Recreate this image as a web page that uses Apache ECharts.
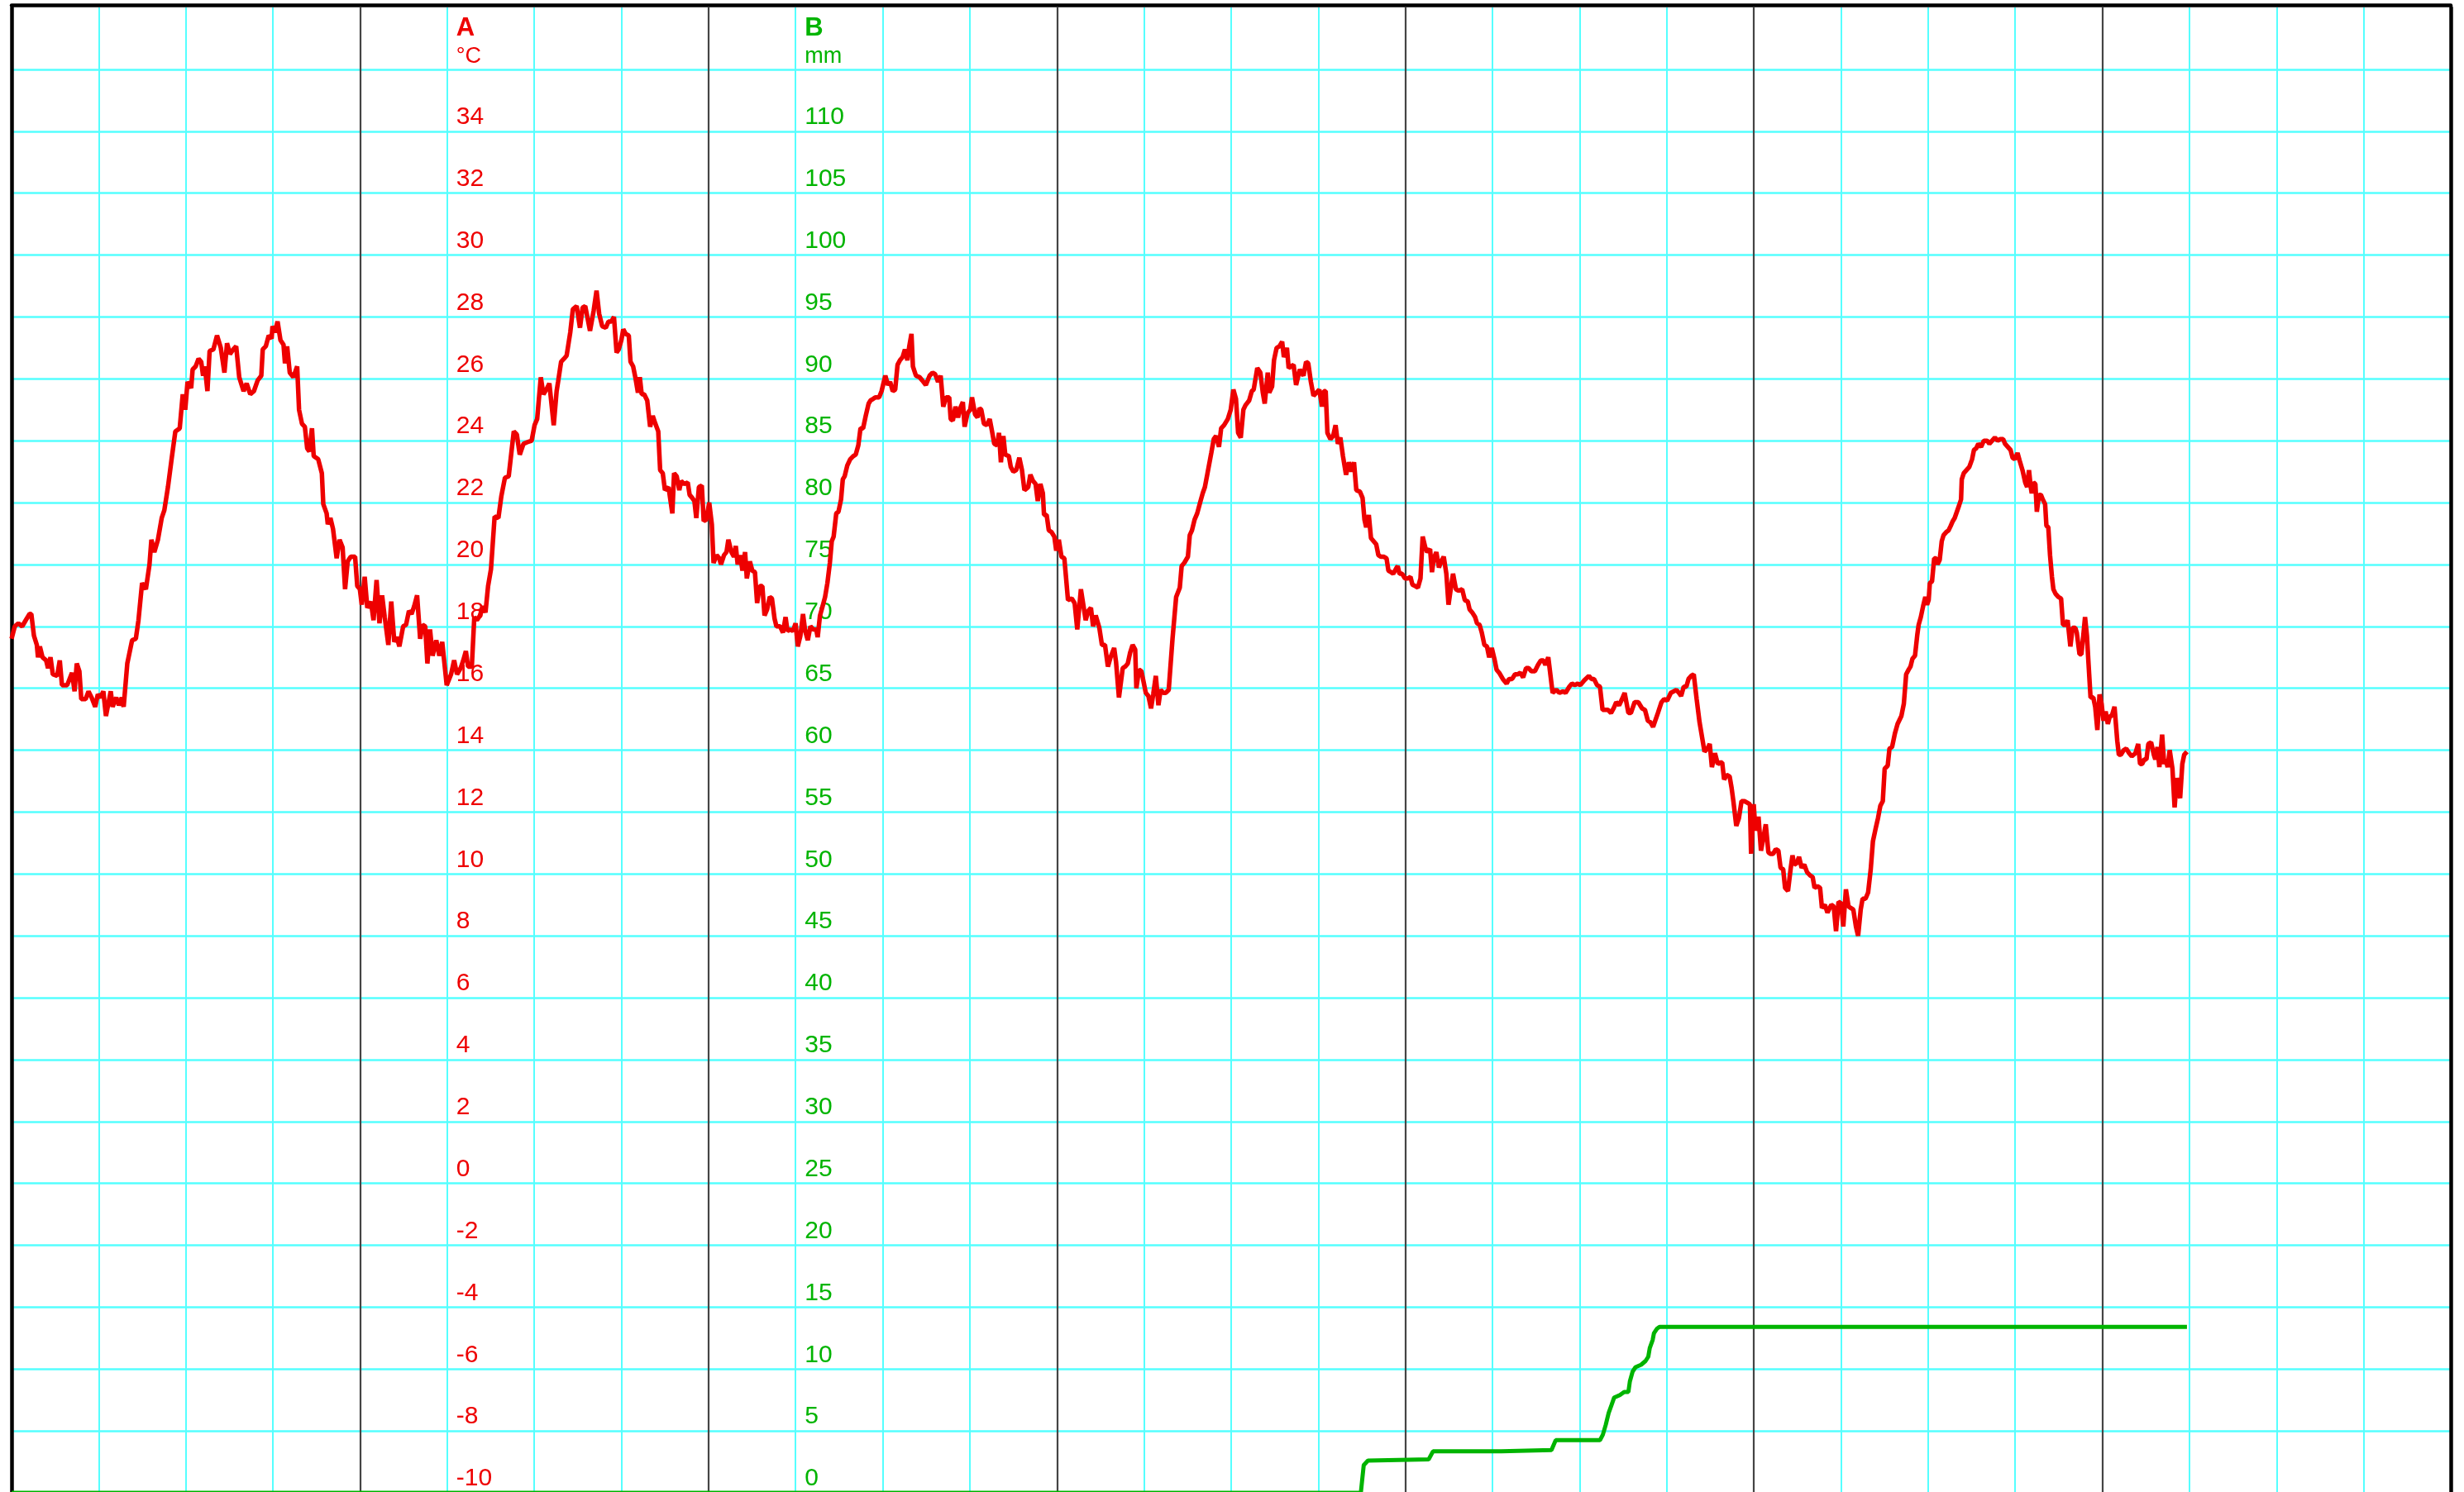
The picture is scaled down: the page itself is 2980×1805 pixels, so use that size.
<!DOCTYPE html>
<html>
<head>
<meta charset="utf-8">
<script src="https://cdn.jsdelivr.net/npm/echarts@6/dist/echarts.min.js"></script>
<style>
html,body{margin:0;padding:0;background:#fff;}
#chart{width:2980px;height:1805px;}
</style>
</head>
<body>
<div id="chart"></div>
<script>
// ---- data (hours since start, value) ----
const tempName = 'A';
const tempUnit = '°C';
const rainName = 'B';
const rainUnit = 'mm';
const hoursRange = [0, 168];          // 7 days
const tempRange = [-10, 38];          // axis A
const tempLastLabel = 34;
const rainRange = [0, 120];           // axis B
const rainLastLabel = 110;

const temperature = [
[0,17.6],[0.22,18.0],[0.47,18.1],[0.73,18.0],[0.98,18.2],[1.24,18.4],[1.36,18.4],[1.54,17.7],[1.74,17.4],[1.82,17.0],[1.95,17.35],[2.13,17.0],[2.38,16.9],[2.51,16.65],[2.68,17.0],[2.84,16.45],[3.14,16.4],[3.32,16.9],[3.47,16.1],[3.83,16.1],[4.16,16.5],[4.34,15.9],[4.49,16.8],[4.67,16.55],[4.80,15.65],[5.10,15.65],[5.30,15.9],[5.51,15.7],[5.76,15.4],[5.94,15.8],[6.12,15.7],[6.32,15.9],[6.50,15.1],[6.83,15.9],[6.96,15.4],[7.21,15.7],[7.39,15.45],[7.59,15.7],[7.72,15.4],[7.97,16.8],[8.30,17.55],[8.56,17.6],[8.74,18.2],[8.99,19.4],[9.25,19.2],[9.50,20.0],[9.63,20.8],[9.83,20.4],[10.08,20.8],[10.34,21.5],[10.52,21.75],[10.77,22.5],[11.02,23.4],[11.28,24.3],[11.58,24.4],[11.79,25.5],[11.96,25.0],[12.12,25.9],[12.37,25.7],[12.47,26.3],[12.68,26.4],[12.88,26.65],[13.06,26.55],[13.19,26.1],[13.31,26.4],[13.49,25.6],[13.64,26.9],[13.90,26.95],[14.15,27.4],[14.41,27.0],[14.66,26.2],[14.84,27.15],[15.04,26.8],[15.27,26.95],[15.47,27.05],[15.68,26.05],[15.98,25.6],[16.19,25.85],[16.44,25.5],[16.69,25.6],[16.95,25.95],[17.20,26.1],[17.30,26.95],[17.51,27.05],[17.71,27.4],[17.91,27.3],[17.97,27.7],[18.14,27.5],[18.32,27.85],[18.52,27.25],[18.73,27.1],[18.83,26.5],[18.98,27.05],[19.16,26.2],[19.41,26.05],[19.67,26.4],[19.80,25.0],[20.00,24.55],[20.20,24.45],[20.36,23.75],[20.51,23.65],[20.69,24.4],[20.81,23.5],[21.12,23.4],[21.37,22.95],[21.47,21.95],[21.70,21.65],[21.78,21.3],[21.96,21.5],[22.14,21.15],[22.39,20.2],[22.59,20.8],[22.80,20.55],[22.97,19.2],[23.15,20.1],[23.36,20.25],[23.66,20.25],[23.81,19.3],[23.99,19.2],[24.12,18.7],[24.32,19.6],[24.50,18.6],[24.75,18.8],[24.93,18.2],[25.14,19.5],[25.34,18.1],[25.52,19.0],[25.70,18.3],[25.95,17.4],[26.15,18.8],[26.36,17.5],[26.53,17.65],[26.71,17.35],[26.97,18.0],[27.17,18.05],[27.37,18.5],[27.55,18.4],[27.73,18.65],[27.93,19.0],[28.14,17.6],[28.31,18.05],[28.49,18.0],[28.64,16.8],[28.82,17.9],[29.00,17.05],[29.25,17.55],[29.46,17.05],[29.66,17.5],[29.97,16.1],[30.27,16.45],[30.48,16.9],[30.68,16.45],[30.93,16.65],[31.11,16.9],[31.29,17.2],[31.44,16.7],[31.70,16.7],[31.87,18.3],[32.05,18.2],[32.26,18.35],[32.46,18.65],[32.64,18.45],[32.82,19.3],[33.02,19.85],[33.27,21.55],[33.53,21.5],[33.73,22.2],[33.98,22.8],[34.24,22.85],[34.42,23.6],[34.59,24.3],[34.80,24.2],[35.00,23.55],[35.26,23.9],[35.51,23.95],[35.82,24.0],[36.02,24.5],[36.20,24.7],[36.45,26.05],[36.63,25.5],[36.83,25.65],[37.04,25.85],[37.34,24.5],[37.54,25.6],[37.64,25.9],[37.85,26.55],[38.05,26.65],[38.23,26.75],[38.48,27.5],[38.66,28.25],[38.92,28.35],
[39.15,27.65],[39.33,28.3],[39.51,28.35],[39.84,27.55],[40.09,28.2],[40.29,28.85],[40.47,28.1],[40.68,27.7],[40.93,27.65],[41.11,27.85],[41.31,27.85],[41.49,28.0],[41.67,26.85],[41.82,26.95],[42.00,27.25],[42.13,27.6],[42.30,27.45],[42.51,27.4],[42.63,26.55],[42.81,26.4],[42.96,26.05],[43.14,25.55],[43.27,26.05],[43.40,25.5],[43.57,25.5],[43.78,25.3],[43.98,24.45],[44.16,24.8],[44.34,24.55],[44.54,24.3],[44.67,23.05],[44.85,22.95],[45.00,22.4],[45.25,22.5],[45.51,21.65],[45.63,22.95],[45.81,22.85],[45.99,22.4],[46.12,22.7],[46.32,22.6],[46.57,22.65],[46.70,22.25],[46.88,22.15],[47.03,22.05],[47.16,21.5],[47.34,22.5],[47.54,22.55],[47.67,21.4],[47.85,21.45],[48.05,22.0],[48.23,21.3],[48.35,20.05],[48.56,20.3],[48.74,20.2],[48.86,20.0],[49.07,20.3],[49.24,20.4],[49.37,20.8],[49.58,20.4],[49.75,20.25],[49.88,20.6],[50.01,20.0],[50.18,20.3],[50.34,19.8],[50.52,20.4],[50.64,19.55],[50.85,20.1],[51.02,19.8],[51.20,19.75],[51.35,18.75],[51.53,19.3],[51.71,19.3],[51.86,18.35],[52.04,18.55],[52.22,18.95],[52.37,18.9],[52.55,18.25],[52.68,18.0],[52.93,18.0],[53.13,17.8],[53.31,18.3],[53.44,17.85],[53.64,17.9],[53.82,17.85],[54.00,18.1],[54.15,17.35],[54.33,17.7],[54.51,18.4],[54.66,17.85],[54.84,17.55],[55.02,18.0],[55.22,17.9],[55.42,17.9],[55.52,17.65],[55.68,18.35],[55.86,18.65],[56.03,18.95],[56.19,19.4],[56.36,20.05],[56.49,20.75],[56.62,20.9],[56.80,21.65],[56.95,21.7],[57.13,22.1],[57.25,22.75],[57.38,22.85],[57.56,23.2],[57.76,23.4],[57.97,23.5],[58.14,23.55],[58.32,23.85],[58.47,24.4],[58.65,24.4],[58.83,24.8],[59.03,25.2],[59.16,25.3],[59.34,25.35],[59.49,25.4],[59.75,25.4],[59.92,25.6],[60.18,26.1],[60.36,25.8],[60.51,25.9],[60.69,25.6],[60.86,25.65],[61.02,26.45],[61.19,26.6],[61.37,26.7],[61.53,26.95],[61.70,26.6],[61.83,27.05],[61.98,27.45],[62.08,26.4],[62.29,26.1],[62.54,26.05],[62.72,25.95],[62.97,25.8],[63.23,26.1],[63.43,26.2],[63.61,26.15],[63.81,25.9],[63.99,26.1],[64.17,25.1],[64.37,25.4],[64.58,25.4],[64.68,24.7],[64.83,24.65],[65.01,25.1],[65.19,24.75],[65.34,25.05],[65.52,25.25],[65.64,24.45],[65.85,24.9],[66.03,25.0],[66.15,25.4],[66.36,24.85],[66.53,24.75],[66.66,25.05],[66.79,25.0],[66.97,24.55],[67.17,24.5],[67.37,24.7],[67.55,24.25],[67.68,23.9],[67.88,23.85],[68.01,24.25],[68.14,23.3],[68.31,24.15],[68.44,23.55],[68.69,23.5],[68.82,23.15],[69.00,23.0],[69.20,23.05],[69.41,23.45],[69.59,23.05],[69.76,22.4],[70.02,22.5],[70.17,22.9],[70.35,22.7],[70.53,22.6],[70.68,22.05],[70.86,22.6],[71.03,22.3],[71.11,21.6],[71.29,21.6],[71.44,21.1],[71.62,21.05],[71.82,20.9],[71.95,20.45],[72.13,20.8],[72.31,20.25],[72.51,20.2],[72.64,19.5],[72.76,18.85],[73.02,18.9],[73.22,18.75],[73.40,17.9],[73.65,19.2],[73.98,18.2],[74.16,18.5],[74.34,18.6],[74.49,18.0],[74.67,18.35],[74.92,17.95],[75.10,17.4],[75.31,17.4],[75.51,16.7],[75.69,17.0],[75.94,17.3],[76.07,16.85],[76.27,15.7],[76.53,16.65],[76.70,16.7],[76.88,16.8],[77.04,17.15],[77.21,17.4],[77.39,17.25],[77.47,16.0],[77.65,16.6],
[77.82,16.55],[77.97,16.2],[78.12,15.85],[78.30,15.75],[78.48,15.35],[78.63,15.8],[78.81,16.4],[78.99,15.45],[79.14,15.95],[79.32,15.85],[79.50,15.85],[79.70,15.95],[79.96,17.6],[80.21,18.95],[80.46,19.25],[80.59,19.95],[80.77,20.05],[81.02,20.25],[81.15,20.95],[81.30,21.1],[81.48,21.45],[81.66,21.65],[81.86,22.0],[82.04,22.3],[82.19,22.5],[82.37,22.95],[82.63,23.6],[82.80,24.05],[82.96,24.15],[83.16,23.8],[83.31,24.4],[83.51,24.5],[83.77,24.7],[83.97,25.0],[84.15,25.65],[84.33,25.35],[84.48,24.25],[84.66,24.1],[84.84,25.0],[84.99,25.15],[85.24,25.3],[85.42,25.6],[85.55,25.65],[85.80,26.35],[86.01,26.2],[86.18,25.55],[86.31,25.2],[86.52,26.2],[86.62,25.55],[86.82,25.75],[86.95,26.6],[87.13,27.0],[87.33,27.05],[87.51,27.2],[87.63,26.7],[87.84,27.0],[87.96,26.35],[88.30,26.45],[88.47,25.8],[88.73,26.3],[88.98,26.1],[89.16,26.55],[89.31,26.5],[89.49,25.9],[89.67,25.45],[89.87,25.55],[90.07,25.65],[90.25,25.1],[90.38,25.6],[90.51,25.6],[90.63,24.25],[90.84,24.05],[91.02,24.15],[91.19,24.5],[91.35,23.9],[91.52,24.1],[91.70,23.5],[91.91,22.9],[92.11,23.3],[92.29,23.0],[92.46,23.3],[92.62,22.4],[92.87,22.35],[93.05,22.15],[93.18,21.45],[93.30,21.2],[93.48,21.6],[93.63,20.85],[93.81,20.75],[93.99,20.65],[94.14,20.3],[94.32,20.25],[94.50,20.25],[94.70,20.2],[94.83,19.8],[95.01,19.75],[95.16,19.7],[95.34,19.85],[95.47,19.95],[95.59,19.7],[95.77,19.7],[95.97,19.55],[96.18,19.55],[96.35,19.6],[96.48,19.35],[96.69,19.3],[96.86,19.25],[97.04,19.55],[97.19,20.9],[97.37,20.55],[97.50,20.4],[97.70,20.5],[97.83,19.75],[97.96,20.2],[98.13,20.4],[98.31,19.9],[98.47,20.1],[98.64,20.25],[98.82,19.7],[98.97,18.7],[99.15,19.3],[99.28,19.7],[99.48,19.2],[99.66,19.15],[99.91,19.2],[100.09,18.85],[100.30,18.8],[100.42,18.55],[100.60,18.45],[100.80,18.3],[100.93,18.1],[101.11,18.05],[101.26,17.8],[101.44,17.4],[101.62,17.35],[101.77,17.0],[101.95,17.3],[102.13,16.95],[102.28,16.6],[102.46,16.5],[102.71,16.3],[102.97,16.15],[103.14,16.3],[103.35,16.3],[103.55,16.45],[103.73,16.45],[103.91,16.5],[104.11,16.35],[104.31,16.65],[104.49,16.65],[104.67,16.55],[104.92,16.55],[105.13,16.75],[105.33,16.9],[105.51,16.9],[105.64,16.75],[105.84,17.0],[106.14,15.85],[106.40,15.95],[106.60,15.85],[106.86,15.9],[107.03,15.85],[107.29,16.05],[107.47,16.15],[107.67,16.1],[107.87,16.15],[108.05,16.1],[108.31,16.25],[108.64,16.4],[108.81,16.3],[108.99,16.3],[109.20,16.1],[109.40,16.05],[109.58,15.3],[109.75,15.3],[109.96,15.3],[110.16,15.2],[110.34,15.35],[110.52,15.55],[110.72,15.45],[110.92,15.65],[111.10,15.85],[111.36,15.2],[111.53,15.2],[111.79,15.55],[112.04,15.55],[112.30,15.35],[112.50,15.3],[112.70,14.95],[112.88,14.9],[113.06,14.75],[113.39,15.2],[113.64,15.55],[113.82,15.65],[114.03,15.6],[114.28,15.85],[114.48,15.9],[114.66,15.95],[114.84,15.85],[114.99,15.75],[115.17,16.05],[115.35,16.05],[115.50,16.3],[115.68,16.4],[115.86,16.45],[116.06,15.65],[116.26,14.9],
[116.60,13.95],[116.81,14.05],[116.96,14.2],[117.11,13.45],[117.32,13.9],[117.52,13.55],[117.70,13.6],[117.82,13.6],[117.95,13.05],[118.13,13.2],[118.33,13.15],[118.46,12.8],[118.59,12.35],[118.79,11.55],[118.97,11.8],[119.15,12.35],[119.35,12.35],[119.55,12.3],[119.73,12.25],[119.81,10.65],[119.99,12.25],[120.11,11.4],[120.32,11.85],[120.49,10.75],[120.67,11.2],[120.82,11.6],[121.00,10.7],[121.13,10.65],[121.33,10.65],[121.51,10.8],[121.69,10.75],[121.84,10.2],[122.02,10.15],[122.15,9.55],[122.35,9.45],[122.53,10.15],[122.66,10.6],[122.78,10.3],[122.96,10.35],[123.11,10.55],[123.29,10.2],[123.47,10.3],[123.67,10.05],[123.88,9.95],[124.05,9.9],[124.18,9.55],[124.38,9.6],[124.56,9.55],[124.69,8.9],[124.89,9.0],[125.07,8.75],[125.33,9.0],[125.50,8.95],[125.66,8.15],[125.83,9.1],[126.01,9.05],[126.16,8.3],[126.34,9.5],[126.52,8.95],[126.67,8.9],[126.85,8.85],[127.03,8.3],[127.18,8.0],[127.36,8.85],[127.49,9.2],[127.69,9.2],[127.87,9.4],[128.05,10.15],[128.20,11.05],[128.38,11.45],[128.55,11.8],[128.71,12.2],[128.88,12.35],[129.01,13.4],[129.22,13.5],[129.34,14.05],[129.52,14.1],[129.72,14.55],[129.90,14.85],[130.16,15.1],[130.33,15.5],[130.49,16.45],[130.66,16.6],[130.79,16.7],[130.92,16.95],[131.10,17.05],[131.25,17.7],[131.35,18.05],[131.50,18.3],[131.68,18.7],[131.81,18.95],
[131.93,18.7],[132.04,18.85],[132.12,19.4],[132.27,19.45],[132.42,20.2],[132.56,20.2],[132.65,20.0],[132.80,20.15],[132.94,20.75],[133.07,20.95],[133.26,21.05],[133.41,21.1],[133.56,21.25],[133.70,21.4],[133.83,21.5],[133.98,21.7],[134.13,21.9],[134.27,22.1],[134.32,22.75],[134.46,22.95],[134.65,23.05],[134.84,23.15],[135.03,23.4],[135.16,23.7],[135.31,23.75],[135.46,23.9],[135.65,23.8],[135.84,24.0],[136.07,24.0],[136.22,23.9],[136.41,24.0],[136.60,24.1],[136.79,24.0],[136.98,24.05],[137.17,24.05],[137.30,23.9],[137.49,23.8],[137.68,23.7],[137.82,23.45],[137.97,23.4],[138.16,23.6],[138.31,23.35],[138.50,23.05],[138.69,22.65],[138.82,22.5],[138.95,23.05],[139.07,22.5],[139.14,22.3],[139.26,22.65],[139.39,22.6],[139.49,21.7],[139.64,22.25],[139.77,22.25],[139.90,22.1],[140.06,21.95],[140.15,21.25],[140.28,21.2],[140.40,20.3],[140.53,19.6],[140.63,19.2],[140.78,19.05],[140.97,18.95],[141.16,18.9],[141.29,18.05],[141.48,18.05],[141.61,18.2],[141.80,17.35],[141.95,17.95],[142.14,17.95],[142.24,17.8],[142.43,17.1],[142.56,17.1],[142.71,17.8],[142.81,18.3],[142.94,17.7],[143.05,16.8],[143.19,15.7],[143.38,15.7],[143.51,15.4],[143.66,14.65],[143.81,15.8],[143.95,15.5],[144.08,14.95],[144.23,15.25],[144.38,14.85],[144.52,15.1],[144.65,15.1],[144.84,15.4],[145.03,14.3],[145.14,13.85],[145.28,13.85],[145.47,14.0],[145.65,14.05],[145.85,13.9],[146.03,13.8],[146.28,13.9],[146.47,14.2],[146.60,13.55],[146.74,13.55],[146.89,13.7],[147.04,13.7],[147.17,14.2],[147.36,14.25],[147.55,13.85],[147.65,13.7],[147.80,14.1],[147.93,13.45],[148.12,14.5],[148.26,13.55],[148.37,13.7],[148.50,13.45],[148.64,14.0],[148.83,13.4],[148.98,12.15],[149.13,13.1],[149.26,12.6],[149.36,12.45],[149.51,13.55],[149.64,13.85],[149.83,13.95]
];

const rain = [
[0,0],[92.93,0],[93.13,2.24],[93.42,2.6],[97.6,2.7],[97.9,3.35],[102.6,3.35],[102.7,3.45],[106.06,3.45],[106.35,4.25],[109.4,4.25],[109.6,4.7],[109.8,5.5],[110.0,6.45],[110.2,7.1],[110.38,7.7],[110.77,7.9],[111.07,8.15],[111.36,8.15],[111.46,9.0],[111.65,9.8],[111.85,10.15],[112.24,10.35],[112.54,10.65],[112.73,11.0],[112.83,11.7],[113.03,12.35],[113.12,12.9],[113.32,13.25],[113.5,13.4],[149.83,13.4]
];

// ---- styling ----
const FONT = 'Liberation Sans, Arial, sans-serif';
const RED = '#ee0000';
const GREEN = '#00b400';
const CYAN = '#55ffff';
const DARK = '#444444';

const chart = echarts.init(document.getElementById('chart'), null, {renderer: 'canvas'});

const GRID_LEFT = 14, GRID_WIDTH = 2950, GRID_TOP = 9, GRID_HEIGHT = 1797;
const pxPerHour = GRID_WIDTH / (hoursRange[1] - hoursRange[0]);
const axisAHour = 30, axisBHour = 54;

function borderAxis(pos) {
  return {
    type: 'value', position: pos, min: 0, max: 1, offset: 0,
    axisLine: {show: true, onZero: false, lineStyle: {color: '#000', width: 4.5}},
    axisTick: {show: false}, axisLabel: {show: false}, splitLine: {show: false}
  };
}

function labelStyle(color, last) {
  return {
    inside: true, margin: 11, color: color, fontSize: 30, fontFamily: FONT,
    verticalAlign: 'bottom', align: 'left', padding: [0, 0, 2, 0],
    showMinLabel: true, showMaxLabel: true,
    formatter: v => (v > last ? '' : String(v))
  };
}

function nameStyle(color) {
  return {
    align: 'left', verticalAlign: 'top', padding: [0, 0, 0, 11],
    rich: {
      t: {fontSize: 31, fontWeight: 'bold', color: color, fontFamily: FONT, lineHeight: 36},
      u: {fontSize: 27, color: color, fontFamily: FONT, lineHeight: 34}
    }
  };
}

const option = {
  animation: false,
  backgroundColor: '#ffffff',
  grid: {left: GRID_LEFT, top: GRID_TOP, width: GRID_WIDTH, height: GRID_HEIGHT, containLabel: false, outerBoundsMode: 'none'},
  xAxis: [{
    type: 'value', position: 'top', min: hoursRange[0], max: hoursRange[1], interval: 24, offset: 2.5, z: 1,
    axisLine: {show: true, onZero: false, lineStyle: {color: '#000', width: 4.5}},
    axisTick: {show: false}, axisLabel: {show: false},
    splitLine: {show: true, showMinLine: false, showMaxLine: false, lineStyle: {color: DARK, width: 2.2}},
    minorTick: {show: false, splitNumber: 4},
    minorSplitLine: {show: true, lineStyle: {color: CYAN, width: 2}}
  }],
  yAxis: [{
    type: 'value', position: 'left', min: tempRange[0], max: tempRange[1], interval: 2,
    offset: -(axisAHour * pxPerHour),
    axisLine: {show: false, onZero: false}, axisTick: {show: false},
    axisLabel: labelStyle(RED, tempLastLabel),
    splitLine: {show: true, showMinLine: true, showMaxLine: false, lineStyle: {color: CYAN, width: 2.5}},
    name: '{t|' + tempName + '}\n{u|' + tempUnit + '}',
    nameLocation: 'end', nameGap: -7,
    nameTextStyle: nameStyle(RED)
  }, {
    type: 'value', position: 'left', min: rainRange[0], max: rainRange[1], interval: 5,
    offset: -(axisBHour * pxPerHour),
    axisLine: {show: false, onZero: false}, axisTick: {show: false},
    axisLabel: labelStyle(GREEN, rainLastLabel),
    splitLine: {show: false},
    name: '{t|' + rainName + '}\n{u|' + rainUnit + '}',
    nameLocation: 'end', nameGap: -7,
    nameTextStyle: nameStyle(GREEN)
  },
  borderAxis('left'),
  borderAxis('right')
  ],
  series: [{
    type: 'line', name: 'A', xAxisIndex: 0, yAxisIndex: 0, data: temperature,
    showSymbol: false, symbol: 'none', smooth: false,
    lineStyle: {color: RED, width: 5.5}, z: 3
  }, {
    type: 'line', name: 'B', xAxisIndex: 0, yAxisIndex: 1, data: rain,
    showSymbol: false, symbol: 'none', smooth: false,
    lineStyle: {color: GREEN, width: 5}, z: 3
  }]
};
chart.setOption(option);
</script>
</body>
</html>
